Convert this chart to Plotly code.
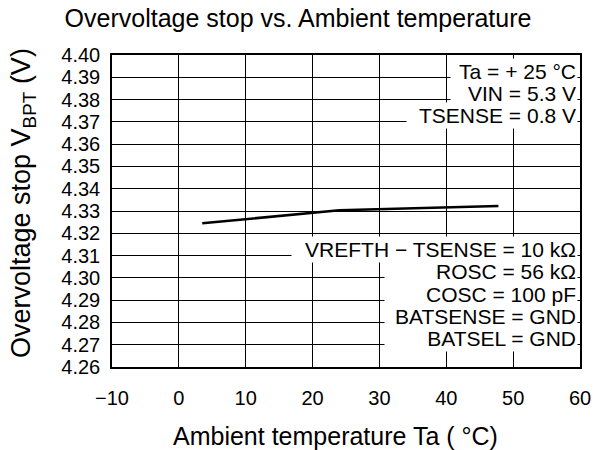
"""
Overvoltage stop vs. ambient temperature
"""

import plotly.graph_objects as go

# data
temps = [3.5, 24.0, 47.8]
vbpt = [4.3245, 4.3303, 4.3322]

x_ticks = [-10, 0, 10, 20, 30, 40, 50, 60]
y_ticks = [4.26 + i * 0.01 for i in range(15)]

cond_top = ['Ta = + 25 °C', 'VIN = 5.3 V', 'TSENSE = 0.8 V']
cond_top_y = [4.39, 4.38, 4.37]
cond_top_w = [124, 124, 168]

cond_bot = ['VREFTH − TSENSE = 10 kΩ', 'ROSC = 56 kΩ', 'COSC = 100 pF',
            'BATSENSE = GND', 'BATSEL = GND']
cond_bot_y = [4.31, 4.30, 4.29, 4.28, 4.27]
cond_bot_w = [283, 190, 190, 190, 190]

FONT = 'Liberation Sans, Arial, sans-serif'

fig = go.Figure()

fig.add_trace(go.Scatter(
    x=temps,
    y=vbpt,
    mode='lines',
    line=dict(color='black', width=2.5),
    showlegend=False,
    hoverinfo='skip'
))

# condition labels sit on white boxes that hide the grid behind them;
# lower rows go in first so an upper box never hides a descender
rows = list(zip(cond_top + cond_bot, cond_top_y + cond_bot_y, cond_top_w + cond_bot_w))
rows.sort(key=lambda r: r[1])
annotations = []
for text, y, w in rows:
    annotations.append(dict(
        text=text,
        xref='paper', x=1, xanchor='right', xshift=-2,
        yref='y', y=y, yanchor='middle', yshift=6,
        width=w,
        align='right',
        showarrow=False,
        bgcolor='white',
        borderpad=1,
        font=dict(size=21, color='black', family=FONT)
    ))

# axis titles as annotations so they can sit where the original has them
annotations.append(dict(
    text='Ambient temperature Ta ( °C)',
    xref='paper', x=0.4765, xanchor='center',
    yref='paper', y=0, yanchor='middle', yshift=-69,
    showarrow=False,
    font=dict(size=25, color='black', family=FONT)
))
annotations.append(dict(
    text='Overvoltage stop V<sub>BPT</sub> (V)',
    xref='paper', x=0, xanchor='center', xshift=-89,
    yref='paper', y=0.5, yanchor='middle', yshift=8,
    textangle=-90,
    showarrow=False,
    font=dict(size=27, color='black', family=FONT)
))

axis_common = dict(
    showgrid=True,
    gridcolor='black',
    gridwidth=1.2,
    showline=True,
    linecolor='black',
    linewidth=1.5,
    mirror=True,
    zeroline=False,
    ticks='',
    automargin=False,
    tickfont=dict(size=20, color='black', family=FONT),
)

fig.update_layout(
    width=596,
    height=450,
    title=dict(
        text='Overvoltage stop vs. Ambient temperature',
        xref='container', x=0.5, xanchor='center',
        yref='container', y=0.96, yanchor='middle',
        font=dict(size=25, color='black', family=FONT)
    ),
    xaxis=dict(
        range=[-10, 60],
        tickvals=x_ticks,
        ticklabelstandoff=12,
        **axis_common
    ),
    yaxis=dict(
        range=[4.26, 4.40],
        tickvals=y_ticks,
        tickformat='.2f',
        ticklabelstandoff=6,
        **axis_common
    ),
    annotations=annotations,
    plot_bgcolor='white',
    paper_bgcolor='white',
    margin=dict(l=112, r=16, t=55, b=83),
)

# drop the browser's default 8px body margin so the figure fills the window
fig.write_html(
    "out.html",
    config={'displayModeBar': False},
    post_script="document.body.style.margin = '0';"
)
